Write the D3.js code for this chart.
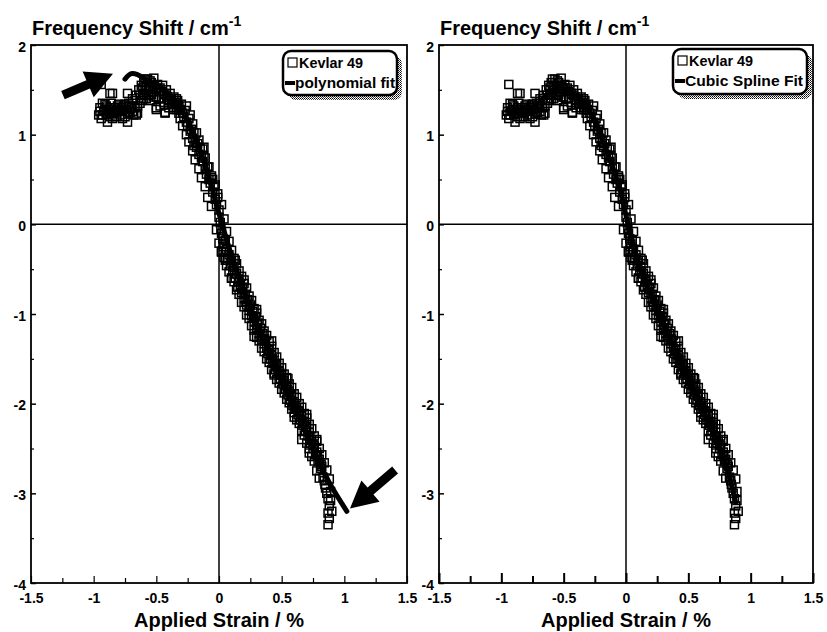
<!DOCTYPE html>
<html><head><meta charset="utf-8">
<script src="https://cdn.jsdelivr.net/npm/d3@7"></script>
<style>body{margin:0;background:#fff}</style>
</head><body><svg id="c" width="827" height="632"></svg>
<script>
// ---- data ----
const xTickValues = [-1.5, -1, -0.5, 0, 0.5, 1, 1.5];
const yTickValues = [-4, -3, -2, -1, 0, 1, 2];
const yTitle = "Frequency Shift / cm";
const yTitleSup = "-1";
const xTitle = "Applied Strain / %";
const seriesName = "Kevlar 49";
const fitNames = ["polynomial fit", "Cubic Spline Fit"];

const kevlarPoints = [
[-0.96,1.22],[-0.95,1.30],[-0.94,1.18],[-0.93,1.35],[-0.92,1.26],[-0.90,1.22],[-0.90,1.32],[-0.89,1.14],
[-0.88,1.28],[-0.87,1.20],[-0.86,1.35],[-0.85,1.46],[-0.84,1.25],[-0.83,1.30],[-0.82,1.20],[-0.80,1.28],
[-0.80,1.34],[-0.79,1.22],[-0.78,1.30],[-0.77,1.26],[-0.76,1.32],[-0.75,1.20],[-0.74,1.28],[-0.73,1.14],
[-0.73,1.46],[-0.72,1.35],[-0.71,1.25],[-0.70,1.30],[-0.69,1.40],[-0.68,1.22],[-0.67,1.30],[-0.66,1.44],
[-0.65,1.24],[-0.64,1.50],[-0.63,1.35],[-0.94,1.56],[-0.87,1.46],[-0.91,1.28],[-0.86,1.24],[-0.81,1.26],
[-0.95,1.26],[-0.93,1.22],[-0.91,1.34],[-0.89,1.24],[-0.87,1.30],[-0.85,1.18],[-0.83,1.24],[-0.81,1.32],
[-0.79,1.28],[-0.77,1.18],[-0.75,1.34],[-0.73,1.24],[-0.71,1.32],[-0.69,1.26],[-0.67,1.38],[-0.65,1.32],
[-0.63,1.44],[-0.61,1.52],[-0.60,1.40],[-0.58,1.55],[-0.56,1.44],[-0.54,1.58],[-0.52,1.42],[-0.50,1.52],
[-0.48,1.40],[-0.46,1.48],[-0.44,1.36],[-0.42,1.44],[-0.40,1.30],[-0.38,1.34],[-0.36,1.28],[-0.34,1.40],
[-0.32,1.24],[-0.55,1.38],[-0.47,1.32],[-0.62,1.38],[-0.59,1.62],[-0.53,1.48],
[-0.62,1.55],[-0.61,1.45],[-0.60,1.58],[-0.59,1.50],[-0.58,1.40],[-0.57,1.62],[-0.56,1.52],[-0.55,1.60],
[-0.54,1.45],[-0.53,1.55],[-0.52,1.63],[-0.51,1.50],[-0.50,1.42],[-0.50,1.30],[-0.49,1.56],[-0.48,1.48],
[-0.47,1.52],[-0.46,1.40],[-0.45,1.55],[-0.44,1.46],[-0.43,1.25],[-0.42,1.50],[-0.41,1.42],[-0.40,1.38],
[-0.39,1.46],[-0.38,1.40],[-0.37,1.35],[-0.36,1.42],[-0.35,1.36],[-0.34,1.30],[-0.33,1.38],[-0.32,1.32],
[-0.31,1.28],[-0.30,1.34],[-0.29,1.24],[-0.28,1.20],[-0.27,1.27],[-0.26,1.14],
[-0.25,1.10],[-0.24,1.18],[-0.23,1.04],[-0.22,1.06],[-0.21,0.96],[-0.20,1.02],[-0.19,0.92],[-0.18,0.86],
[-0.17,0.90],[-0.16,0.78],[-0.15,0.84],[-0.14,0.74],[-0.13,0.70],[-0.12,0.76],[-0.11,0.62],[-0.10,0.56],
[-0.09,0.64],[-0.08,0.50],[-0.07,0.46],[-0.06,0.52],[-0.05,0.36],[-0.04,0.42],[-0.03,0.28],[-0.02,0.22],
[-0.34,1.28],[-0.31,1.18],[-0.29,1.10],[-0.26,1.00],[-0.24,0.92],[-0.21,0.82],[-0.19,0.72],[-0.16,0.62],
[-0.14,0.52],[-0.11,0.42],[-0.09,0.30],[-0.06,0.20],
[-0.26,1.32],[-0.23,1.22],[-0.21,1.12],[-0.18,1.02],[-0.16,0.94],[-0.13,0.84],[-0.11,0.74],[-0.08,0.64],
[-0.06,0.54],[-0.03,0.44],[-0.01,0.34],[0.02,0.22],
[-0.01,0.30],[0.00,0.08],[0.00,0.16],[0.01,0.02],[0.02,-0.10],[0.03,-0.16],[0.04,-0.22],[0.05,-0.30],
[0.05,-0.18],[0.06,-0.28],[0.07,-0.38],[0.08,-0.34],[0.09,-0.46],[0.10,-0.40],[0.11,-0.52],[0.12,-0.48],
[0.13,-0.60],[0.14,-0.55],[0.15,-0.70],[0.16,-0.62],[0.17,-0.68],[0.18,-0.76],[0.19,-0.72],[0.20,-0.82],
[0.21,-0.78],[0.22,-0.90],[0.23,-0.84],[0.24,-0.96],[0.25,-0.90],[0.26,-1.02],[0.27,-0.97],[0.28,-1.08],
[0.29,-1.03],[0.30,-1.15],[0.31,-1.10],[0.32,-1.22],[0.33,-1.16],[0.34,-1.28],[0.35,-1.22],[0.36,-1.33],
[0.37,-1.30],[0.38,-1.38],[0.39,-1.44],[0.40,-1.40],[0.41,-1.50],[0.42,-1.46],[0.43,-1.55],[0.44,-1.52],
[0.45,-1.62],[0.46,-1.58],[0.47,-1.66],[0.48,-1.63],[0.49,-1.72],[0.50,-1.68],[0.51,-1.78],[0.52,-1.74],
[0.53,-1.84],[0.54,-1.80],[0.55,-1.90],[0.56,-1.86],[0.57,-1.96],[0.58,-1.92],[0.59,-2.02],[0.60,-1.98],
[0.61,-2.06],[0.62,-2.04],[0.63,-2.12],[0.64,-2.09],[0.65,-2.18],[0.66,-2.14],[0.67,-2.24],[0.68,-2.20],
[0.69,-2.30],[0.70,-2.26],[0.71,-2.36],[0.72,-2.32],[0.73,-2.44],[0.74,-2.40],[0.75,-2.50],[0.76,-2.47],
[0.77,-2.57],[0.78,-2.54],[0.79,-2.64],[0.80,-2.62],[0.81,-2.72],[0.82,-2.70],[0.83,-2.82],[0.84,-2.86],
[0.85,-2.94],[0.86,-3.00],[0.87,-3.06],[0.88,-3.14],[0.87,-3.22],[0.88,-3.28],[0.87,-3.35],
[0.02,-0.30],[0.13,-0.40],[0.20,-0.62],[0.30,-0.95],[0.28,-1.25],[0.42,-1.30],[0.44,-1.68],[0.55,-1.72],
[0.60,-2.15],[0.70,-2.12],[0.66,-2.40],[0.78,-2.40],[0.72,-2.55],[0.10,-0.60],[-0.05,0.50],[-0.12,0.86],
[-0.20,0.88],[0.05,-0.40],[-0.50,1.28],[-0.43,1.24],[-0.66,1.22],
[0.015,-0.05],[0.035,-0.25],[0.065,-0.40],[0.095,-0.42],[0.125,-0.55],[0.155,-0.64],[0.185,-0.70],
[0.215,-0.86],[0.245,-0.92],[0.275,-1.04],[0.305,-1.12],[0.335,-1.24],[0.365,-1.28],[0.395,-1.40],
[0.425,-1.50],[0.455,-1.56],[0.485,-1.66],[0.515,-1.74],[0.545,-1.84],[0.575,-1.90],[0.605,-2.02],
[0.635,-2.08],[0.665,-2.20],[0.695,-2.26],[0.725,-2.38],[0.755,-2.46],[0.785,-2.58],[0.815,-2.68],[0.845,-2.90],
[0.04,0.06],[0.06,-0.08],[0.08,-0.19],[0.10,-0.29],[0.12,-0.38],[0.14,-0.44],[0.16,-0.52],[0.18,-0.58],
[0.20,-0.66],[0.22,-0.71],[0.24,-0.80],[0.26,-0.85],[0.28,-0.94],[0.30,-0.99],[0.32,-1.07],[0.34,-1.11],
[0.36,-1.19],[0.38,-1.24],[0.40,-1.31],[0.42,-1.36],[0.44,-1.43],[0.46,-1.48],[0.48,-1.55],[0.50,-1.60],
[0.52,-1.67],[0.54,-1.71],[0.56,-1.78],[0.58,-1.82],[0.60,-1.89],[0.62,-1.93],[0.64,-2.00],[0.66,-2.04],
[0.68,-2.11],[0.70,-2.16],[0.72,-2.23],[0.74,-2.28],[0.76,-2.36],[0.78,-2.42],[0.80,-2.50],[0.82,-2.57],
[0.84,-2.66],[0.86,-2.74],[0.88,-2.84],[0.89,-2.98],[0.90,-3.20],[0.89,-3.08],
[-0.02,-0.06],[0.00,-0.21],[0.02,-0.31],[0.04,-0.37],[0.06,-0.46],[0.08,-0.53],[0.10,-0.60],[0.12,-0.64],
[0.14,-0.73],[0.16,-0.78],[0.18,-0.87],[0.20,-0.92],[0.22,-1.01],[0.24,-1.05],[0.26,-1.13],[0.28,-1.18],
[0.30,-1.26],[0.32,-1.30],[0.34,-1.38],[0.36,-1.42],[0.38,-1.50],[0.40,-1.54],[0.42,-1.62],[0.44,-1.66],
[0.46,-1.73],[0.48,-1.77],[0.50,-1.84],[0.52,-1.88],[0.54,-1.95],[0.56,-1.99],[0.58,-2.06],[0.60,-2.10],
[0.62,-2.18],[0.64,-2.22],[0.66,-2.30],[0.68,-2.35],[0.70,-2.44],[0.72,-2.50],[0.74,-2.59],[0.76,-2.64],
[0.78,-2.75],[0.80,-2.83]
];

const polynomialFit = [
[-0.75,1.62],[-0.70,1.68],[-0.65,1.67],[-0.60,1.63],[-0.50,1.55],[-0.40,1.45],[-0.30,1.28],[-0.20,1.00],
[-0.10,0.62],[0.00,0.12],[0.10,-0.35],[0.20,-0.75],[0.30,-1.10],[0.40,-1.42],[0.50,-1.74],[0.60,-2.05],
[0.70,-2.35],[0.80,-2.66],[0.90,-2.93],[1.02,-3.20]
];

const cubicSplineFit = [
[-0.95,1.28],[-0.85,1.27],[-0.75,1.30],[-0.65,1.42],[-0.55,1.52],[-0.45,1.47],[-0.35,1.38],[-0.25,1.15],
[-0.15,0.80],[-0.05,0.40],[0.00,0.10],[0.10,-0.45],[0.20,-0.78],[0.30,-1.10],[0.40,-1.42],[0.50,-1.72],
[0.60,-2.02],[0.70,-2.32],[0.80,-2.68],[0.88,-3.10]
];

// annotation arrows (data coordinates: tail -> tip), left panel only
const arrowTails = [[-1.245, 1.44], [1.405, -2.74]];
const arrowTips  = [[-0.846, 1.68], [1.045, -3.17]];

// ---- layout ----
const svg = d3.select("#c");
const FONT = "'Liberation Sans', Arial, Helvetica, sans-serif";
const plotTop = 45, plotBottom = 583;
const panels = [
  {left: 31, right: 407, fit: polynomialFit, fitName: fitNames[0], legend: {x: 283, y: 51, w: 114, h: 44, t2len: 100}, arrows: true, tickW: 1.2},
  {left: 439, right: 813, fit: cubicSplineFit, fitName: fitNames[1], legend: {x: 673, y: 49, w: 134, h: 45, t2len: 118}, arrows: false, tickW: 2}
];
const fmt = d => String(d);

const defs = svg.append("defs");
const pat = defs.append("pattern").attr("id", "stip").attr("width", 2).attr("height", 2).attr("patternUnits", "userSpaceOnUse");
pat.append("rect").attr("width", 2).attr("height", 2).attr("fill", "#fff");
pat.append("rect").attr("width", 1).attr("height", 1).attr("fill", "#000");
pat.append("rect").attr("x", 1).attr("y", 1).attr("width", 1).attr("height", 1).attr("fill", "#444");

panels.forEach((p) => {
  const x = d3.scaleLinear().domain([-1.5, 1.5]).range([p.left, p.right]);
  const y = d3.scaleLinear().domain([-4, 2]).range([plotBottom, plotTop]);
  const g = svg.append("g");

  const xMinor = d3.range(-1.25, 1.5, 0.5);
  const yMinor = d3.range(-3.5, 2, 1);
  g.append("g").attr("transform", `translate(0,${plotBottom})`)
    .call(d3.axisBottom(x).tickValues(xMinor).tickSize(-(p.tickW > 1.5 ? 7 : 5)).tickFormat(""))
    .call(a => a.select(".domain").remove())
    .call(a => a.selectAll("line").attr("stroke-width", p.tickW));
  g.append("g").attr("transform", `translate(${p.left},0)`)
    .call(d3.axisLeft(y).tickValues(yMinor).tickSize(-3).tickFormat(""))
    .call(a => a.select(".domain").remove())
    .call(a => a.selectAll("line").attr("stroke-width", 1.2));

  g.append("g").attr("transform", `translate(0,${plotBottom})`)
    .call(d3.axisBottom(x).tickValues(xTickValues).tickSize(-(p.tickW > 1.5 ? 10 : 7)).tickPadding(10).tickFormat(fmt))
    .call(a => a.select(".domain").remove())
    .call(a => a.selectAll("line").attr("stroke-width", p.tickW))
    .call(a => a.selectAll("text").attr("font-family", FONT).attr("font-weight", "bold").attr("font-size", 14).attr("fill", "#000"));
  g.append("g").attr("transform", `translate(${p.left},0)`)
    .call(d3.axisLeft(y).tickValues(yTickValues).tickSize(-5).tickPadding(5).tickFormat(fmt))
    .call(a => a.select(".domain").remove())
    .call(a => a.selectAll("line").attr("stroke-width", 1.5))
    .call(a => a.selectAll("text").attr("font-family", FONT).attr("font-weight", "bold").attr("font-size", 14).attr("fill", "#000").attr("dy", "0.45em"));

  g.append("rect").attr("x", p.left).attr("y", plotTop).attr("width", p.right - p.left).attr("height", plotBottom - plotTop)
    .attr("fill", "none").attr("stroke", "#000").attr("stroke-width", 1.8);
  g.append("line").attr("x1", p.left).attr("x2", p.right).attr("y1", y(0)).attr("y2", y(0)).attr("stroke", "#000").attr("stroke-width", 1.5);
  g.append("line").attr("x1", x(0)).attr("x2", x(0)).attr("y1", plotTop).attr("y2", plotBottom).attr("stroke", "#000").attr("stroke-width", 1.5);

  const line = d3.line().x(d => x(d[0])).y(d => y(d[1])).curve(d3.curveCatmullRom);
  const clipId = "clip" + p.left;
  defs.append("clipPath").attr("id", clipId).append("rect").attr("x", p.left).attr("y", plotTop).attr("width", p.right - p.left).attr("height", plotBottom - plotTop);
  const plot = g.append("g").attr("clip-path", `url(#${clipId})`);

  plot.selectAll("rect.pt").data(kevlarPoints).join("rect").attr("class", "pt")
    .attr("x", d => x(d[0]) - 4).attr("y", d => y(d[1]) - 4).attr("width", 8).attr("height", 8)
    .attr("fill", "none").attr("stroke", "#000").attr("stroke-width", 1.5);
  plot.append("path").datum(p.fit).attr("d", line).attr("fill", "none").attr("stroke", "#000")
    .attr("stroke-width", 5).attr("stroke-linecap", "round");

  if (p.arrows) {
    arrowTails.forEach((t, i) => {
      const a = [x(t[0]), y(t[1])], b = [x(arrowTips[i][0]), y(arrowTips[i][1])];
      const dx = b[0] - a[0], dy = b[1] - a[1], len = Math.hypot(dx, dy);
      const ux = dx / len, uy = dy / len, nx = -uy, ny = ux;
      const hl = 27, sw = 4.5, hw = 14;
      const bx = b[0] - ux * hl, by = b[1] - uy * hl;
      const pts = [
        [a[0] + nx * sw, a[1] + ny * sw], [bx + nx * sw, by + ny * sw], [bx + nx * hw, by + ny * hw], b,
        [bx - nx * hw, by - ny * hw], [bx - nx * sw, by - ny * sw], [a[0] - nx * sw, a[1] - ny * sw]
      ];
      g.append("polygon").attr("points", pts.map(q => q.join(",")).join(" ")).attr("fill", "#000");
    });
  }

  const L = p.legend;
  const lg = g.append("g");
  lg.append("rect").attr("x", L.x + 5).attr("y", L.y + 5).attr("width", L.w).attr("height", L.h).attr("rx", 8)
    .attr("fill", "url(#stip)");
  lg.append("rect").attr("x", L.x).attr("y", L.y).attr("width", L.w).attr("height", L.h).attr("rx", 8)
    .attr("fill", "#fff").attr("stroke", "#000").attr("stroke-width", 2.5);
  lg.append("rect").attr("x", L.x + 5).attr("y", L.y + 7).attr("width", 9).attr("height", 9)
    .attr("fill", "none").attr("stroke", "#000").attr("stroke-width", 1.2);
  lg.append("text").attr("x", L.x + 16).attr("y", L.y + 17).text(seriesName)
    .attr("font-family", FONT).attr("font-weight", "bold").attr("font-size", 14).attr("textLength", 64).attr("lengthAdjust", "spacingAndGlyphs");
  lg.append("line").attr("x1", L.x + 2).attr("x2", L.x + 12).attr("y1", L.y + 32).attr("y2", L.y + 32)
    .attr("stroke", "#000").attr("stroke-width", 4);
  lg.append("text").attr("x", L.x + 12).attr("y", L.y + 37).text(p.fitName)
    .attr("font-family", FONT).attr("font-weight", "bold").attr("font-size", 14).attr("textLength", L.t2len).attr("lengthAdjust", "spacingAndGlyphs");

  const t = svg.append("text").attr("x", p.left + 1).attr("y", 35)
    .attr("font-family", FONT).attr("font-weight", "bold").attr("font-size", 20).attr("fill", "#000");
  t.append("tspan").text(yTitle);
  t.append("tspan").attr("dy", -9).attr("font-size", 14).text(yTitleSup);
  svg.append("text").attr("x", (p.left + p.right) / 2).attr("y", 627).attr("text-anchor", "middle")
    .attr("font-family", FONT).attr("font-weight", "bold").attr("font-size", 20).attr("fill", "#000").text(xTitle);
});
</script></body></html>
